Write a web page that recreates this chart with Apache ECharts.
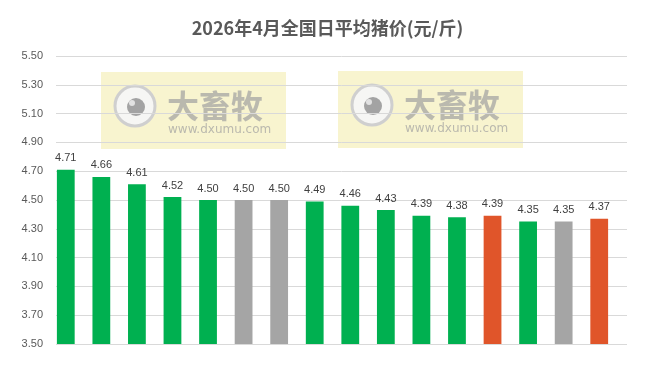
<!DOCTYPE html>
<html>
<head>
<meta charset="utf-8">
<script src="https://cdn.jsdelivr.net/npm/echarts@6/dist/echarts.min.js"></script>
<style>
html,body{margin:0;padding:0;background:#fff;}
#main{width:655px;height:365px;}
</style>
</head>
<body>
<div id="main"></div>
<script>
var titleText = '2026年4月全国日平均猪价(元/斤)';
var categories = ['1','2','3','4','5','6','7','8','9','10','11','12','13','14','15','16'];
var prices = [4.71, 4.66, 4.61, 4.52, 4.50, 4.50, 4.50, 4.49, 4.46, 4.43, 4.39, 4.38, 4.39, 4.35, 4.35, 4.37];
var barKinds = ['down','down','down','down','down','flat','flat','down','down','down','down','down','up','down','flat','up'];
var yMin = 3.5, yMax = 5.5, yStep = 0.2;

var kindColor = {down:'#00B050', flat:'#A5A5A5', up:'#E0552A'};

var chart = echarts.init(document.getElementById('main'), null, {renderer:'canvas'});

function watermark(x, y) {
  return {
    type: 'group', x: x, y: y, z: -10, silent: true,
    children: [
      {type:'rect', shape:{x:0, y:0, width:185, height:77}, style:{fill:'rgba(242,234,160,0.5)'}},
      {type:'circle', shape:{cx:34, cy:34, r:20}, style:{fill:'rgba(246,246,246,0.95)', stroke:'#cfcfcf', lineWidth:3}},
      {type:'circle', shape:{cx:35, cy:35, r:9}, style:{fill:'#a3a3a3'}},
      {type:'circle', shape:{cx:31, cy:31, r:3}, style:{fill:'#e2e2e2'}},
      {type:'text', x:66, y:18, style:{text:'大畜牧', font:'bold 32px "Noto Sans CJK SC"', fill:'rgba(160,160,160,0.7)'}},
      {type:'text', x:67, y:52, style:{text:'www.dxumu.com', font:'12px "DejaVu Sans"', fill:'rgba(160,160,160,0.7)'}}
    ]
  };
}

var option = {
  backgroundColor: '#ffffff',
  animation: false,
  title: {
    text: titleText,
    left: 'center',
    top: 14,
    textStyle: {fontFamily:'"Noto Sans CJK SC"', fontSize:18, fontWeight:'bold', color:'#595959'}
  },
  graphic: [watermark(101, 72), watermark(338, 71)],
  grid: [
    {left:56, right:28, top:56, bottom:21},
    {left:48, right:38, top:56, bottom:21}
  ],
  xAxis: [
    {gridIndex:0, type:'category', data:categories, show:false},
    {gridIndex:1, type:'category', data:categories,
      axisLine:{show:false}, axisTick:{show:false}, axisLabel:{show:false}}
  ],
  yAxis: [
    {gridIndex:0, type:'value', min:yMin, max:yMax, interval:yStep,
      axisLine:{show:false}, axisTick:{show:false},
      axisLabel:{formatter:function(v){return v.toFixed(2);}, color:'#595959', fontSize:11,
        fontFamily:'"Liberation Sans"', margin:13},
      splitLine:{lineStyle:{color:'#D9D9D9', width:1}}},
    {gridIndex:1, type:'value', min:yMin, max:yMax, interval:yStep, show:false,
      splitLine:{show:false}}
  ],
  series: [{
    type:'bar',
    xAxisIndex:1, yAxisIndex:1,
    barWidth:'50%',
    data: prices.map(function(v,i){return {value:v, itemStyle:{color:kindColor[barKinds[i]]}};}),
    label:{show:true, position:'top', distance:6, color:'#404040', fontSize:11,
      fontFamily:'"Liberation Sans"', formatter:function(p){return p.value.toFixed(2);}}
  }]
};
chart.setOption(option);
</script>
</body>
</html>
